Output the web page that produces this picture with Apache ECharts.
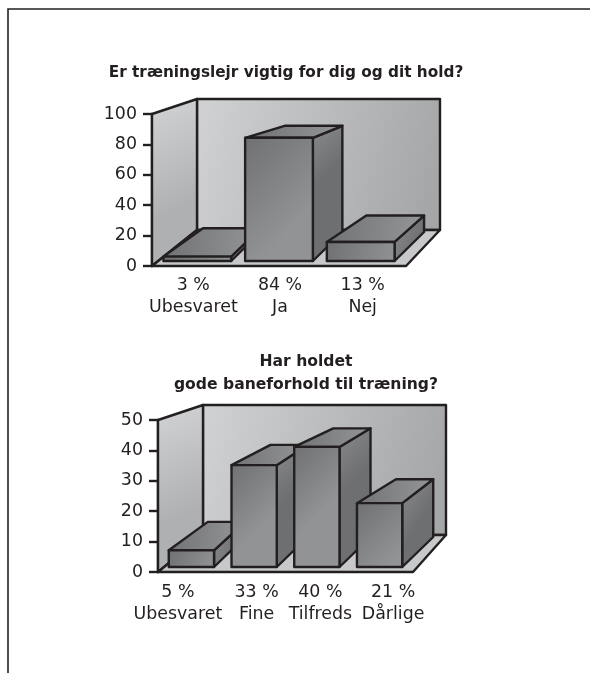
<!DOCTYPE html>
<html><head><meta charset="utf-8">
<style>html,body{margin:0;padding:0;background:#fff}#c{width:590px;height:673px}</style>
<script src="https://cdn.jsdelivr.net/npm/echarts@6/dist/echarts.min.js"></script>
</head><body><div id="c"></div>
<script>
const title1 = 'Er træningslejr vigtig for dig og dit hold?';
const categories1 = ['Ubesvaret', 'Ja', 'Nej'];
const percentLabels1 = ['3 %', '84 %', '13 %'];
const values1 = [3, 84, 13];
const ticks1 = {min: 0, max: 100, interval: 20};

const title2 = 'Har holdet\ngode baneforhold til træning?';
const categories2 = ['Ubesvaret', 'Fine', 'Tilfreds', 'Dårlige'];
const percentLabels2 = ['5 %', '33 %', '40 %', '21 %'];
const values2 = [5.5, 33.5, 39.5, 21];
const ticks2 = {min: 0, max: 50, interval: 10};

const INK = '#231f20';
const FONT = '"DejaVu Sans", sans-serif';
const FS = 17.4;
const grad = (a, b, y2) => ({type: 'linear', x: 0, y: 0, x2: 1, y2: y2 === undefined ? 1 : y2, colorStops: [{offset: 0, color: a}, {offset: 1, color: b}]});
const strokeStyle = fill => ({fill, stroke: INK, lineWidth: 2.4, lineJoin: 'round'});
const poly = (pts, fill) => ({type: 'polygon', shape: {points: pts}, style: strokeStyle(fill)});

function backdrop(depth) {
  return function (params) {
    const r = params.coordSys;
    const L = r.x, R = r.x + r.width, T = r.y, B = r.y + r.height;
    const bl = L + depth.dx, br = R + depth.dxRight, bt = T - depth.topDy, bb = B - depth.floorDy;
    return {type: 'group', children: [
      poly([[bl, bt], [br, bt], [br, bb], [bl, bb]], grad('#d0d2d4', '#a4a6a8', 0.5)),
      poly([[L, T], [bl, bt], [bl, bb], [L, B]], grad('#d2d4d6', '#aeb0b2', 0.6)),
      poly([[L, B], [bl, bb], [br, bb], [R, B]], '#c6c8ca')
    ]};
  };
}

function bar3d(depth) {
  return function (params, api) {
    const i = api.value(0), v = api.value(1);
    const r = params.coordSys;
    const mid = r.x + r.width / 2;
    const c = api.coord([i, 0]);
    const cx = mid + (c[0] - mid) * depth.shrink;
    const w = api.size([1, 0])[0] * depth.barWidth;
    const yb = c[1] - depth.lift;
    const yt = yb - api.size([0, v])[1] * depth.barScale;
    const l = cx - w / 2, rr = cx + w / 2;
    const dyBot = depth.barDy;
    const dyTop = dyBot - (yb - yt) * depth.taper;
    const lb = l + depth.barDxL, rb = rr + depth.barDxR;
    return {type: 'group', children: [
      poly([[rr, yt], [rb, yt - dyTop], [rb, yb - dyBot], [rr, yb]], grad('#8a8b8d', '#6e6f71', 0.25)),
      poly([[l, yt], [lb, yt - dyTop], [rb, yt - dyTop], [rr, yt]], grad('#707173', '#959698', 0.4)),
      poly([[l, yt], [rr, yt], [rr, yb], [l, yb]], grad('#6f7072', '#929395', w / Math.max(yb - yt, w)))
    ]};
  };
}

const depth1 = {dx: 45, dxRight: 34, topDy: 15, floorDy: 36, shrink: 0.965, barWidth: 0.8, lift: 5, barScale: 0.965, barDy: 29, taper: 0.138, barDxL: 39.5, barDxR: 29.5};
const depth2 = {dx: 45, dxRight: 33, topDy: 15, floorDy: 37, shrink: 0.984, barWidth: 0.71, lift: 5, barScale: 1, barDy: 30, taper: 0.095, barDxL: 39, barDxR: 31};

function xLabels(pcts, shifts, margin) {
  const rich = {};
  shifts.forEach((s, i) => {
    rich['s' + i] = {fontFamily: FONT, fontSize: FS, color: INK, lineHeight: 21.5,
      padding: s > 0 ? [0, 0, 0, 2 * s] : [0, -2 * s, 0, 0]};
  });
  return {
    margin, fontFamily: FONT, fontSize: FS, color: INK, interval: 0, hideOverlap: false,
    formatter: (val, i) => `{s${i}|${pcts[i]}}\n{s${i}|${val}}`, rich
  };
}
const yAxisOf = (ticks, idx) => ({
  type: 'value', gridIndex: idx, min: ticks.min, max: ticks.max, interval: ticks.interval,
  splitLine: {show: false},
  axisLine: {show: true, lineStyle: {color: INK, width: 2.4}},
  axisTick: {show: true, length: 9, lineStyle: {color: INK, width: 2.4}},
  axisLabel: {fontFamily: FONT, fontSize: FS, color: INK, margin: 15}
});
const xAxisOf = (cats, pcts, shifts, idx, margin) => ({
  type: 'category', gridIndex: idx, data: cats,
  axisLine: {show: false}, axisTick: {show: false},
  axisLabel: xLabels(pcts, shifts, margin)
});
const toPoints = vals => vals.map((v, i) => [i, v]);

const option = {
  animation: false,
  backgroundColor: '#fff',
  title: [
    {text: title1, left: 281, top: 61, textAlign: 'center',
     textStyle: {fontFamily: FONT, fontWeight: 'bold', fontSize: 15.3, color: INK}},
    {text: title2, left: 301, top: 345, textAlign: 'center',
     textStyle: {fontFamily: FONT, fontWeight: 'bold', fontSize: 15.6, color: INK, lineHeight: 23, align: 'center'}}
  ],
  grid: [
    {left: 152, top: 114, width: 254, height: 152},
    {left: 158, top: 420, width: 255, height: 152}
  ],
  xAxis: [xAxisOf(categories1, percentLabels1, [-1, 1, -1], 0, 9), xAxisOf(categories2, percentLabels2, [-12, 3, 3, 12], 1, 10)],
  yAxis: [yAxisOf(ticks1, 0), yAxisOf(ticks2, 1)],
  series: [
    {type: 'custom', xAxisIndex: 0, yAxisIndex: 0, data: [[0, 0]], z: 1, clip: false, renderItem: backdrop(depth1), silent: true},
    {type: 'custom', xAxisIndex: 0, yAxisIndex: 0, data: toPoints(values1), encode: {x: 0, y: 1}, z: 2, clip: false, renderItem: bar3d(depth1)},
    {type: 'custom', xAxisIndex: 1, yAxisIndex: 1, data: [[0, 0]], z: 1, clip: false, renderItem: backdrop(depth2), silent: true},
    {type: 'custom', xAxisIndex: 1, yAxisIndex: 1, data: toPoints(values2), encode: {x: 0, y: 1}, z: 2, clip: false, renderItem: bar3d(depth2)}
  ],
  graphic: [
    {type: 'polyline', silent: true, shape: {points: [[8, 673], [8, 9], [590, 9]]}, style: {stroke: '#222', lineWidth: 1.6, fill: null}}
  ]
};
const chart = echarts.init(document.getElementById('c'), null, {renderer: 'canvas'});
chart.setOption(option);
</script></body></html>
